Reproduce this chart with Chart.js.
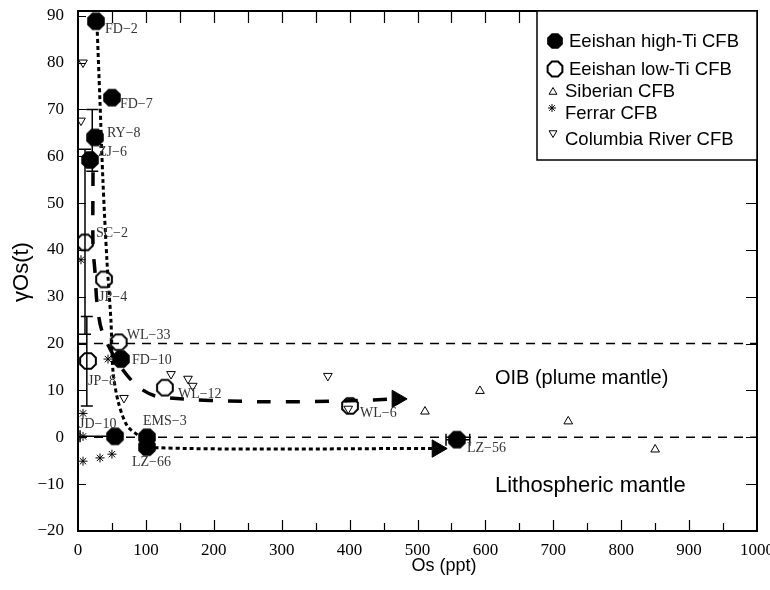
<!DOCTYPE html>
<html><head><meta charset="utf-8">
<script src="https://cdn.jsdelivr.net/npm/chart.js@4/dist/chart.umd.min.js"></script>
<style>html,body{margin:0;padding:0;background:#fff}</style>
</head><body>
<canvas id="c" width="770" height="590"></canvas>
<script>
// ---------------- DATA ----------------
const highTiLabels = ['FD-2','FD-7','RY-8','ZJ-6','FD-10','JD-10','EMS-3','LZ-66','LZ-56'];
const highTiOs     = [26.5, 50, 25, 17.7, 63.3, 54.5, 101.6, 101.6, 558];
const highTiGamma  = [88.8, 72.5, 64.0, 59.2, 16.7, 0.2, 0.0, -2.1, -0.5];

const lowTiLabels = ['SC-2','JP-4','WL-33','JP-8','WL-12','WL-6'];
const lowTiOs     = [10.3, 38.3, 60, 14.7, 128, 400.6];
const lowTiGamma  = [41.6, 33.7, 20.3, 16.3, 10.6, 6.7];

const siberianOs    = [511, 592, 722, 850];
const siberianGamma = [5.5, 9.9, 3.4, -2.6];

const ferrarOs    = [4.4, 7.4, 7.4, 7.4, 32.4, 50, 44.2];
const ferrarGamma = [37.9, 5.1, 0.2, -5.1, -4.4, -3.6, 16.7];

const columbiaOs    = [7.4, 4.4, 67.7, 137, 162, 169, 398, 368];
const columbiaGamma = [80, 67.6, 8.4, 13.5, 12.5, 11, 6.1, 13.1];

// vertical error bars (Os position, low, high gamma)
const vErrOs   = [21, 10.3, 13];
const vErrLow  = [56.8, 22.0, 6.7];
const vErrHigh = [70.0, 61.5, 25.8];
// horizontal error bars (gamma position, low, high Os)
const hErrGamma = [-0.5, 0.2];
const hErrLow   = [542, 3];
const hErrHigh  = [577, 54.5];

// trend curves (last point = arrow head)
const highTiTrendOs    = [28, 32.4, 36.8, 42.7, 48.6, 51.5, 58.9, 72.2, 91.3, 101.6, 529];
const highTiTrendGamma = [88.0, 71.5, 54.5, 37.5, 24.7, 14.2, 7.8, 2.5, 0.0, -2.15, -2.4];
const lowTiTrendOs     = [22.1, 22.1, 25.0, 27.8, 35.3, 58.9, 86.9, 117.8, 268, 400.6, 470];
const lowTiTrendGamma  = [56.6, 40.7, 35.4, 29.0, 22.7, 15.9, 11.0, 8.7, 7.6, 7.8, 8.2];

// reference levels
const refLevels = [20, 0];
const xTicks = [0,100,200,300,400,500,600,700,800,900,1000];
const yTicks = [-20,-10,0,10,20,30,40,50,60,70,80,90];

const legendNames = ['Eeishan high-Ti CFB','Eeishan low-Ti CFB','Siberian CFB','Ferrar CFB','Columbia River CFB'];
const xTitle = 'Os (ppt)';
const yTitle = '\u03B3Os(t)';

// ---------------- STYLE / POSITION helpers ----------------
const highLabelOffsets = [[9,8],[8,7],[12,-4],[8,-8],[11,1],[-36,-12],[-4,-16],[-15,15],[10,9]];
const lowLabelOffsets  = [[11,-9],[-5,18],[8,-7],[0,20],[13,7],[10,7]];

function pts(xs, ys){ return xs.map((x,i)=>({x:x, y:ys[i]})); }
function makeOct(r, filled, lw){
  const s = 2*Math.ceil(r+lw+1);
  const c = document.createElement('canvas'); c.width = s; c.height = s;
  const g = c.getContext('2d');
  g.beginPath();
  for(let i=0;i<8;i++){
    const a = Math.PI/8 + i*Math.PI/4;
    const px = s/2 + r*Math.cos(a), py = s/2 + r*Math.sin(a);
    if(i) g.lineTo(px,py); else g.moveTo(px,py);
  }
  g.closePath();
  if(filled){ g.fillStyle='#000'; g.fill(); }
  else { g.lineWidth = lw; g.strokeStyle='#000'; g.stroke(); }
  return c;
}
const octFilled = makeOct(9.5, true, 0);
const octOpen   = makeOct(8.5, false, 2);
const octFilledL = makeOct(8.5, true, 0);
const octOpenL   = makeOct(8, false, 2);

const SERIF = "'Liberation Serif', 'DejaVu Serif', serif";
const SANS  = "'Liberation Sans', Arial, sans-serif";
const fmtMinus = s => String(s).replace('-', '\u2212');

function drawTri(ctx, x, y, r, rot){
  ctx.beginPath();
  let rad = rot*Math.PI/180;
  for(let i=0;i<3;i++){
    const px = x + Math.sin(rad)*r, py = y - Math.cos(rad)*r;
    if(i) ctx.lineTo(px,py); else ctx.moveTo(px,py);
    rad += 2*Math.PI/3;
  }
  ctx.closePath(); ctx.stroke();
}
function drawStar(ctx, x, y, r){
  ctx.beginPath();
  for(let i=0;i<4;i++){
    const a = i*Math.PI/4;
    ctx.moveTo(x - r*Math.cos(a), y - r*Math.sin(a));
    ctx.lineTo(x + r*Math.cos(a), y + r*Math.sin(a));
  }
  ctx.stroke();
}

const decorPlugin = {
  id: 'decor',
  beforeDatasetsDraw(chart){
    const {ctx, scales:{x, y}} = chart;
    ctx.save();
    ctx.strokeStyle = '#000'; ctx.lineWidth = 1.5;
    const cap = 6;
    vErrOs.forEach((v,i)=>{
      const px = x.getPixelForValue(v), p1 = y.getPixelForValue(vErrLow[i]), p2 = y.getPixelForValue(vErrHigh[i]);
      ctx.beginPath();
      ctx.moveTo(px,p1); ctx.lineTo(px,p2);
      ctx.moveTo(px-cap,p1); ctx.lineTo(px+cap,p1);
      ctx.moveTo(px-cap,p2); ctx.lineTo(px+cap,p2);
      ctx.stroke();
    });
    hErrGamma.forEach((g,i)=>{
      const py = y.getPixelForValue(g), p1 = x.getPixelForValue(hErrLow[i]), p2 = x.getPixelForValue(hErrHigh[i]);
      ctx.beginPath();
      ctx.moveTo(p1,py); ctx.lineTo(p2,py);
      ctx.moveTo(p1,py-cap); ctx.lineTo(p1,py+cap);
      ctx.moveTo(p2,py-cap); ctx.lineTo(p2,py+cap);
      ctx.stroke();
    });
    ctx.restore();
  },
  afterDatasetsDraw(chart){
    const {ctx, scales:{x, y}} = chart;
    ctx.save();
    ctx.font = "14px " + SERIF;
    ctx.fillStyle = '#333';
    ctx.textAlign = 'left'; ctx.textBaseline = 'middle';
    highTiLabels.forEach((t,i)=>{
      ctx.fillText(fmtMinus(t), x.getPixelForValue(highTiOs[i]) + highLabelOffsets[i][0], y.getPixelForValue(highTiGamma[i]) + highLabelOffsets[i][1]);
    });
    lowTiLabels.forEach((t,i)=>{
      ctx.fillText(fmtMinus(t), x.getPixelForValue(lowTiOs[i]) + lowLabelOffsets[i][0], y.getPixelForValue(lowTiGamma[i]) + lowLabelOffsets[i][1]);
    });
    // region annotations
    ctx.fillStyle = '#000';
    ctx.font = "20px " + SANS;
    ctx.fillText('OIB (plume mantle)', x.getPixelForValue(614), y.getPixelForValue(12.5));
    ctx.font = "22px " + SANS;
    ctx.fillText('Lithospheric mantle', x.getPixelForValue(614), y.getPixelForValue(-10.3));
    ctx.restore();
  },
  afterDraw(chart){
    const {ctx, chartArea:a, scales:{x, y}} = chart;
    ctx.save();
    ctx.strokeStyle = '#000';
    ctx.lineWidth = 2;
    ctx.strokeRect(a.left, a.top, a.right-a.left, a.bottom-a.top);
    ctx.lineWidth = 1.2;
    ctx.beginPath();
    yTicks.forEach(v=>{
      const py = Math.round(y.getPixelForValue(v))+0.5;
      ctx.moveTo(a.left, py); ctx.lineTo(a.left+8, py);
      ctx.moveTo(a.right, py); ctx.lineTo(a.right-11, py);
    });
    for(let v=50; v<1000; v+=50){
      const px = Math.round(x.getPixelForValue(v))+0.5;
      const major = v%100===0;
      ctx.moveTo(px, a.bottom); ctx.lineTo(px, a.bottom-(major?11:8));
      ctx.moveTo(px, a.top); ctx.lineTo(px, a.top+12);
    }
    ctx.stroke();

    // axis titles
    ctx.fillStyle = '#000';
    ctx.textAlign = 'center'; ctx.textBaseline = 'middle';
    ctx.font = "18px " + SANS;
    ctx.fillText(xTitle, 444, 566);
    ctx.save();
    ctx.translate(22, 272);
    ctx.rotate(-Math.PI/2);
    ctx.font = "22px " + SANS;
    ctx.fillText(yTitle, 0, 0);
    ctx.restore();

    // legend box
    const lx = 537, ly = a.top, lb = 160;
    ctx.fillStyle = '#fff';
    ctx.fillRect(lx, ly, a.right-lx, lb-ly);
    ctx.lineWidth = 1.5;
    ctx.strokeRect(lx, ly, a.right-lx, lb-ly);
    ctx.lineWidth = 1;
    ctx.drawImage(octFilledL, 555-octFilledL.width/2, 41-octFilledL.height/2);
    ctx.drawImage(octOpenL, 555-octOpenL.width/2, 69-octOpenL.height/2);
    drawTri(ctx, 553, 92, 4.5, 0);
    drawStar(ctx, 552, 108, 4);
    drawTri(ctx, 553, 133, 4.5, 180);
    ctx.fillStyle = '#000';
    ctx.font = "18.5px " + SANS;
    ctx.textAlign = 'left'; ctx.textBaseline = 'middle';
    ctx.fillText(legendNames[0], 569, 42);
    ctx.fillText(legendNames[1], 569, 70);
    ctx.fillText(legendNames[2], 565, 92);
    ctx.fillText(legendNames[3], 565, 114);
    ctx.fillText(legendNames[4], 565, 140);
    ctx.restore();
  }
};

const ctx = document.getElementById('c').getContext('2d');
new Chart(ctx, {
  type: 'scatter',
  data: {
    datasets: [
      { label: legendNames[0], data: pts(highTiOs, highTiGamma), pointStyle: octFilled, pointRadius: 9, order: 1 },
      { label: legendNames[1], data: pts(lowTiOs, lowTiGamma), pointStyle: octOpen, pointRadius: 9, order: 2 },
      { label: legendNames[2], data: pts(siberianOs, siberianGamma), pointStyle: 'triangle', pointRadius: 5, borderColor:'#000', backgroundColor:'rgba(0,0,0,0)', borderWidth: 1, order: 3 },
      { label: legendNames[3], data: pts(ferrarOs, ferrarGamma), pointStyle: 'star', pointRadius: 4.5, borderColor:'#000', backgroundColor:'rgba(0,0,0,0)', borderWidth: 1, order: 4 },
      { label: legendNames[4], data: pts(columbiaOs, columbiaGamma), pointStyle: 'triangle', rotation: 180, pointRadius: 5, borderColor:'#000', backgroundColor:'rgba(0,0,0,0)', borderWidth: 1, order: 5 },
      { label: 'high-Ti trend', data: pts(highTiTrendOs, highTiTrendGamma), showLine: true, borderColor:'#000', borderWidth: 3, borderDash:[4,3], pointRadius: 0, tension: 0.3, order: 10 },
      { label: 'low-Ti trend', data: pts(lowTiTrendOs, lowTiTrendGamma), showLine: true, borderColor:'#000', borderWidth: 3.5, borderDash:[14,15], pointRadius: 0, tension: 0.3, order: 11 },
      { label: 'arrows', data: [
          {x: highTiTrendOs[highTiTrendOs.length-1], y: highTiTrendGamma[highTiTrendGamma.length-1]},
          {x: lowTiTrendOs[lowTiTrendOs.length-1], y: lowTiTrendGamma[lowTiTrendGamma.length-1]}],
        pointStyle: 'triangle', rotation: 90, pointRadius: 10, backgroundColor:'#000', borderColor:'#000', borderWidth: 1, order: 0 },
      ...refLevels.map((lv,i)=>({ label: 'ref'+i, data: [{x:0,y:lv},{x:1000,y:lv}], showLine: true, borderColor:'#000', borderWidth: 1.5, borderDash:[9,7], pointRadius: 0, order: 20 }))
    ]
  },
  options: {
    responsive: false,
    animation: false,
    devicePixelRatio: 1,
    layout: { padding: { top: 8, right: 13, left: 0, bottom: 0 } },
    plugins: { legend: { display: false }, tooltip: { enabled: false } },
    scales: {
      x: {
        type: 'linear', min: 0, max: 1000,
        afterBuildTicks: s => { s.ticks = xTicks.map(v=>({value:v})); },
        ticks: { font: { family: SERIF, size: 17 }, color: '#000', padding: 9, maxRotation: 0, autoSkip: false, callback: v => String(v) },
        grid: { display: false, drawTicks: false },
        border: { display: false },
        title: { display: false, text: xTitle },
        afterFit: s => { s.height = 59; s.paddingLeft = 0; s.paddingRight = 0; }
      },
      y: {
        type: 'linear', min: -20, max: 91,
        afterBuildTicks: s => { s.ticks = yTicks.map(v=>({value:v})); },
        ticks: { font: { family: SERIF, size: 17 }, color: '#000', padding: 14, callback: v => fmtMinus(v) },
        grid: { display: false, drawTicks: false },
        border: { display: false },
        title: { display: false, text: yTitle },
        afterFit: s => { s.width = 78; s.paddingTop = 0; s.paddingBottom = 0; }
      }
    }
  },
  plugins: [decorPlugin]
});
</script>
</body></html>
